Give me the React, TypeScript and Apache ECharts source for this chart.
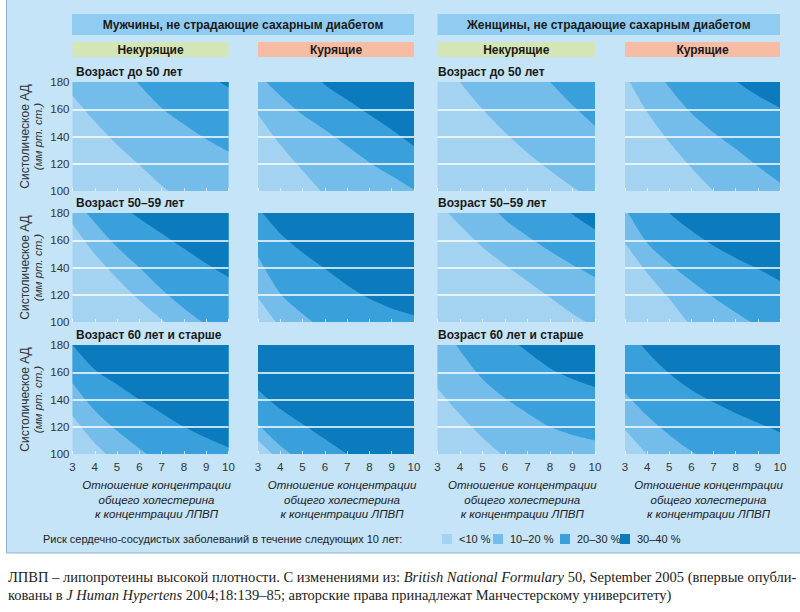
import React, { useEffect, useRef } from "react";
import * as echarts from "echarts";

// ---------- data ----------
const RATIO_TICKS = [3, 4, 5, 6, 7, 8, 9, 10];

const GROUP_TITLES = [
  "Мужчины, не страдающие сахарным диабетом",
  "Женщины, не страдающие сахарным диабетом",
];
const SMOKING_TITLES = ["Некурящие", "Курящие", "Некурящие", "Курящие"];
const AGE_TITLES = ["Возраст до 50 лет", "Возраст 50–59 лет", "Возраст 60 лет и старше"];
const RISK_LABELS = ["<10 %", "10–20 %", "20–30 %", "30–40 %"];
const X_TITLE_LINES = ["Отношение концентрации", "общего холестерина", "к концентрации ЛПВП"];
const Y_TITLE = "Систолическое АД";
const Y_UNIT = "(мм рт. ст.)";
const LEGEND_TITLE = "Риск сердечно-сосудистых заболеваний в течение следующих 10 лет:";

// Systolic BP on the 10 %, 20 %, 30 % risk boundaries, at ratio 3..10
// Row 1: age < 50
const M_NS_U50_T10 = [170, 151, 134, 119, 104, 92, 81, 72];
const M_NS_U50_T20 = [235, 215, 197, 178, 161, 149, 138, 129];
const M_NS_U50_T30 = [265, 245, 230, 218, 208, 198, 186, 176];
const M_S_U50_T10 = [156, 134, 115, 97, 84, 72, 62, 54];
const M_S_U50_T20 = [186, 170, 156, 145, 133, 121, 111, 101];
const M_S_U50_T30 = [235, 213, 195, 178, 167, 156, 145, 133];
const W_NS_U50_T10 = [203, 180, 160, 143, 128, 115, 103, 93];
const W_NS_U50_T20 = [270, 252, 235, 218, 197, 180, 163, 148];
const W_NS_U50_T30: number[] = [];
const W_S_U50_T10 = [186, 158, 136, 117, 100, 87, 76, 66];
const W_S_U50_T20 = [230, 198, 176, 157, 143, 131, 118, 106];
const W_S_U50_T30 = [290, 260, 236, 217, 198, 181, 170, 161];
// Row 2: age 50-59
const M_NS_5059_T10 = [172, 150, 132, 116, 102, 90, 80, 71];
const M_NS_5059_T20 = [192, 173, 155, 140, 124, 110, 98, 88];
const M_NS_5059_T30 = [225, 205, 188, 176, 165, 154, 143, 133];
const M_S_5059_T10 = [118, 96, 80, 68, 58, 50, 44, 38];
const M_S_5059_T20 = [148, 121, 106, 93, 82, 73, 66, 60];
const M_S_5059_T30 = [184, 165, 151, 139, 127, 117, 110, 105];
const W_NS_5059_T10 = [188, 171, 155, 142, 130, 118, 106, 96];
const W_NS_5059_T20 = [230, 210, 193, 175, 163, 152, 142, 133];
const W_NS_5059_T30 = [270, 250, 232, 218, 206, 196, 179, 168];
const W_S_5059_T10 = [158, 136, 117, 97, 84, 73, 64, 56];
const W_S_5059_T20 = [184, 158, 143, 130, 118, 107, 97, 89];
const W_S_5059_T30 = [225, 198, 180, 167, 156, 147, 139, 130];
// Row 3: age 60+
const M_NS_60_T10 = [128, 108, 93, 80, 70, 62, 55, 49];
const M_NS_60_T20 = [152, 132, 117, 104, 93, 84, 76, 70];
const M_NS_60_T30 = [180, 162, 151, 140, 130, 120, 112, 105];
const M_S_60_T10 = [110, 95, 82, 71, 62, 55, 49, 44];
const M_S_60_T20 = [122, 106, 94, 84, 75, 68, 62, 56];
const M_S_60_T30 = [147, 133, 122, 111, 100, 91, 84, 78];
const W_NS_60_T10 = [148, 129, 112, 98, 87, 78, 70, 63];
const W_NS_60_T20 = [200, 176, 155, 141, 130, 120, 114, 110];
const W_NS_60_T30 = [240, 215, 200, 188, 175, 163, 155, 149];
const W_S_60_T10 = [118, 100, 88, 78, 70, 63, 57, 52];
const W_S_60_T20 = [145, 128, 114, 102, 92, 84, 77, 71];
const W_S_60_T30 = [195, 175, 159, 147, 138, 130, 123, 116];

const PANELS = [
  [M_NS_U50_T10, M_NS_U50_T20, M_NS_U50_T30],
  [M_S_U50_T10, M_S_U50_T20, M_S_U50_T30],
  [W_NS_U50_T10, W_NS_U50_T20, W_NS_U50_T30],
  [W_S_U50_T10, W_S_U50_T20, W_S_U50_T30],
  [M_NS_5059_T10, M_NS_5059_T20, M_NS_5059_T30],
  [M_S_5059_T10, M_S_5059_T20, M_S_5059_T30],
  [W_NS_5059_T10, W_NS_5059_T20, W_NS_5059_T30],
  [W_S_5059_T10, W_S_5059_T20, W_S_5059_T30],
  [M_NS_60_T10, M_NS_60_T20, M_NS_60_T30],
  [M_S_60_T10, M_S_60_T20, M_S_60_T30],
  [W_NS_60_T10, W_NS_60_T20, W_NS_60_T30],
  [W_S_60_T10, W_S_60_T20, W_S_60_T30],
];

// ---------- styles / layout ----------
const BAND_COLORS = ["#a4d3f1", "#74bdea", "#3aa0dc", "#0b7bbd"];
const BG = "#c5e4f7";
const COL_X = [
  [72.5, 228.5],
  [258, 414],
  [437.5, 595],
  [625, 780],
];
const ROW_Y = [
  [82, 191],
  [213, 322],
  [345, 454],
];
const SANS = "'Liberation Sans', Arial, sans-serif";
const SERIF = "'Liberation Serif', 'Times New Roman', serif";

function buildOption() {
  const grid: any[] = [];
  const xAxis: any[] = [];
  const yAxis: any[] = [];
  const series: any[] = [];
  for (let r = 0; r < 3; r++) {
    for (let c = 0; c < 4; c++) {
      const i = r * 4 + c;
      const [x0, x1] = COL_X[c];
      const [y0, y1] = ROW_Y[r];
      grid.push({
        left: x0,
        top: y0,
        width: x1 - x0,
        height: y1 - y0,
        show: true,
        backgroundColor: BAND_COLORS[0],
        borderWidth: 0,
      });
      xAxis.push({
        type: "value",
        gridIndex: i,
        min: 3,
        max: 10,
        interval: 1,
        z: 5,
        axisLine: { show: false },
        axisTick: { show: true, inside: true, length: 3, lineStyle: { color: "rgba(255,255,255,0.7)" } },
        axisLabel: { show: r === 2, color: "#333", fontSize: 11.5, fontFamily: SANS, margin: 7 },
        splitLine: { show: false },
      });
      yAxis.push({
        type: "value",
        gridIndex: i,
        min: 100,
        max: 180,
        interval: 20,
        z: 5,
        axisLine: { show: false },
        axisTick: { show: false },
        axisLabel: { show: c === 0, color: "#333", fontSize: 11.5, fontFamily: SANS, margin: 3 },
        splitLine: {
          show: true,
          showMinLine: false,
          showMaxLine: false,
          lineStyle: { color: "#ffffff", width: 1.5 },
        },
      });
      PANELS[i].forEach((vals, t) => {
        if (!vals.length) return;
        series.push({
          type: "line",
          xAxisIndex: i,
          yAxisIndex: i,
          data: RATIO_TICKS.map((x, k) => [x, vals[k]]),
          smooth: 0.3,
          symbol: "none",
          clip: true,
          silent: true,
          lineStyle: { width: 0, opacity: 0 },
          areaStyle: { origin: "end", color: BAND_COLORS[t + 1], opacity: 1 },
        });
      });
    }
  }

  const graphic: any[] = [];
  graphic.push({
    type: "rect",
    shape: { x: 6.5, y: -1, width: 800, height: 554 },
    style: { fill: BG, stroke: "#8fb3cc", lineWidth: 1 },
    z: -10,
  });
  // group header bars
  const groupX = [
    [72, 414],
    [437.5, 780],
  ];
  groupX.forEach(([a, b], g) => {
    graphic.push({
      type: "rect",
      shape: { x: a, y: 14, width: b - a, height: 21 },
      style: { fill: "#90ccf1" },
      z: -5,
    });
    graphic.push({
      type: "text",
      x: (a + b) / 2,
      y: 25,
      style: {
        text: GROUP_TITLES[g],
        fontFamily: SANS,
        fontWeight: "bold",
        fontSize: 12,
        fill: "#1a1a1a",
        align: "center",
        verticalAlign: "middle",
      },
    });
  });
  // smoking bars
  COL_X.forEach(([a, b], c) => {
    graphic.push({
      type: "rect",
      shape: { x: a, y: 42, width: b - a, height: 15 },
      style: { fill: c % 2 === 0 ? "#d4e6b5" : "#f6bca4" },
      z: -5,
    });
    graphic.push({
      type: "text",
      x: (a + b) / 2,
      y: 50,
      style: {
        text: SMOKING_TITLES[c],
        fontFamily: SANS,
        fontWeight: "bold",
        fontSize: 12,
        fill: "#1a1a1a",
        align: "center",
        verticalAlign: "middle",
      },
    });
  });
  // age titles
  ROW_Y.forEach(([y0, y1], r) => {
    [76, 438].forEach((x) => {
      graphic.push({
        type: "text",
        x,
        y: y0 - 10,
        style: {
          text: AGE_TITLES[r],
          fontFamily: SANS,
          fontWeight: "bold",
          fontSize: 12,
          fill: "#1a1a1a",
          align: "left",
          verticalAlign: "middle",
        },
      });
    });
    const cy = (y0 + y1) / 2;
    graphic.push({
      type: "text",
      x: 25,
      y: cy,
      rotation: Math.PI / 2,
      style: {
        text: Y_TITLE,
        fontFamily: SANS,
        fontSize: 12,
        fill: "#333",
        align: "center",
        verticalAlign: "middle",
      },
    });
    graphic.push({
      type: "text",
      x: 38,
      y: cy,
      rotation: Math.PI / 2,
      style: {
        text: Y_UNIT,
        fontFamily: SANS,
        fontStyle: "italic",
        fontSize: 11.5,
        fill: "#333",
        align: "center",
        verticalAlign: "middle",
      },
    });
  });
  // x titles
  COL_X.forEach(([a, b]) => {
    X_TITLE_LINES.forEach((line, k) => {
      graphic.push({
        type: "text",
        x: (a + b) / 2 + 6,
        y: 485 + k * 14.5,
        style: {
          text: line,
          fontFamily: SANS,
          fontStyle: "italic",
          fontSize: 11.5,
          fill: "#222",
          align: "center",
          verticalAlign: "middle",
        },
      });
    });
  });
  // legend
  graphic.push({
    type: "text",
    x: 43,
    y: 539,
    style: {
      text: LEGEND_TITLE,
      fontFamily: SANS,
      fontSize: 11,
      fill: "#222",
      align: "left",
      verticalAlign: "middle",
    },
  });
  const swatchX = [442, 493, 560, 620];
  RISK_LABELS.forEach((lab, k) => {
    graphic.push({
      type: "rect",
      shape: { x: swatchX[k], y: 534, width: 10, height: 10 },
      style: { fill: BAND_COLORS[k] },
    });
    graphic.push({
      type: "text",
      x: swatchX[k] + 17,
      y: 539,
      style: {
        text: lab,
        fontFamily: SANS,
        fontSize: 11,
        fill: "#222",
        align: "left",
        verticalAlign: "middle",
      },
    });
  });
  // caption
  const rich = {
    n: { fontFamily: SERIF, fontSize: 14.5, fill: "#222", color: "#222" },
    i: { fontFamily: SERIF, fontSize: 14.5, fontStyle: "italic", fill: "#222", color: "#222" },
  };
  graphic.push({
    type: "text",
    x: 8,
    y: 577,
    style: {
      text:
        "{n|ЛПВП – липопротеины высокой плотности. С изменениями из: }{i|British National Formulary}{n| 50, September 2005 (впервые опубли-}",
      rich,
      align: "left",
      verticalAlign: "middle",
    },
  });
  graphic.push({
    type: "text",
    x: 8,
    y: 595,
    style: {
      text:
        "{n|кованы в }{i|J Human Hypertens}{n| 2004;18:139–85; авторские права принадлежат Манчестерскому университету)}",
      rich,
      align: "left",
      verticalAlign: "middle",
    },
  });

  return {
    animation: false,
    backgroundColor: "#ffffff",
    grid,
    xAxis,
    yAxis,
    series,
    graphic,
  };
}

export default function App() {
  const ref = useRef<HTMLDivElement>(null);
  useEffect(() => {
    if (!ref.current) return;
    const chart = echarts.init(ref.current, undefined, { renderer: "svg" });
    chart.setOption(buildOption() as any);
    return () => chart.dispose();
  }, []);
  return (
    <div
      ref={ref}
      style={{ position: "absolute", left: 0, top: 0, width: 800, height: 612 }}
    />
  );
}
